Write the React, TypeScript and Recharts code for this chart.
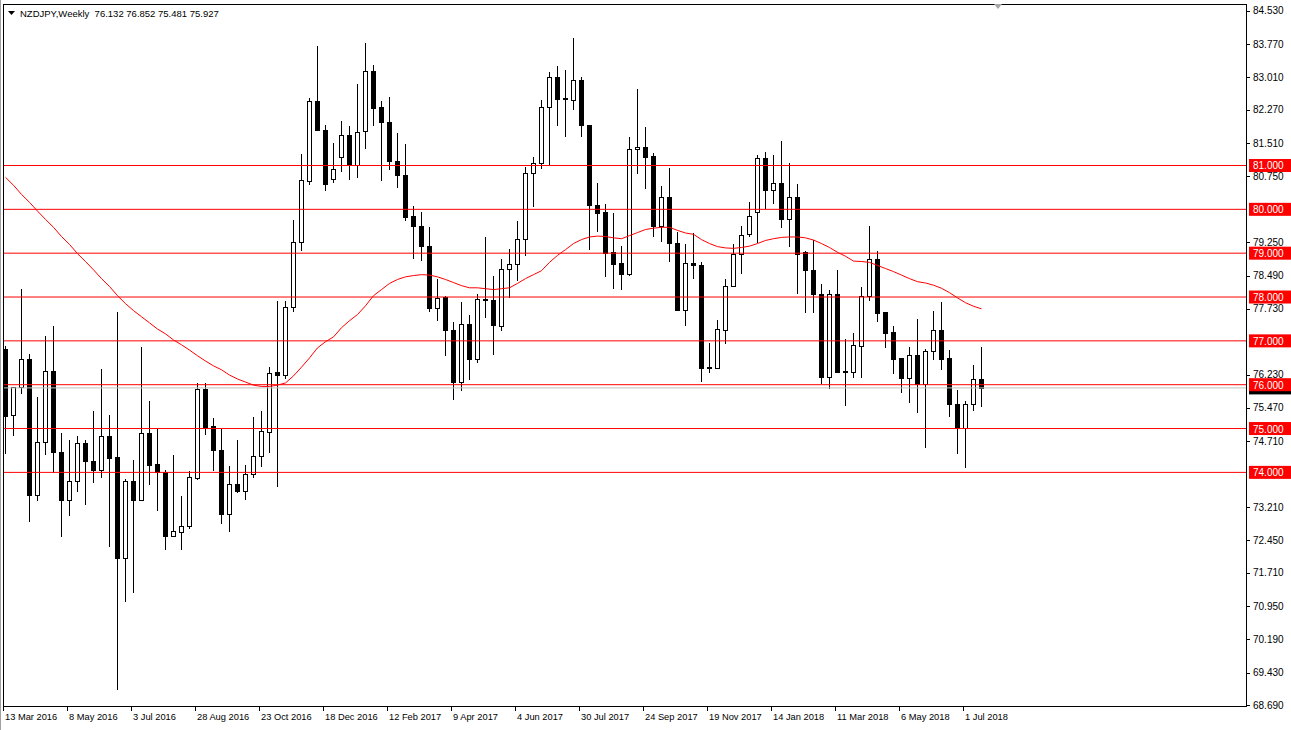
import React from "react";
import { ComposedChart, Bar, Line, XAxis, YAxis, ReferenceLine } from "recharts";

// weekly NZDJPY, 13 Mar 2016 .. 15 Jul 2018
const opens = [
  76.81, 75.3, 75.95, 76.58, 73.48, 74.7, 76.32, 74.47, 73.37, 73.8, 74.67, 74.27, 74.05, 74.82, 74.34, 72.04,
  73.8, 73.38, 74.89, 74.19, 74.0, 72.56, 72.65, 72.77, 73.88, 75.91, 75.05, 74.52, 73.06, 73.73, 73.58, 73.97,
  74.38, 74.92, 76.3, 76.23, 77.78, 79.26, 80.65, 82.46, 81.82, 80.7, 81.19, 81.7, 81.0, 81.79, 83.16, 82.33,
  82.0, 81.11, 80.79, 79.84, 79.63, 79.17, 77.76, 78.0, 77.25, 76.06, 77.39, 76.59, 77.96, 77.94, 77.35, 78.65,
  78.75, 79.33, 80.84, 81.06, 82.34, 83.03, 82.53, 82.5, 82.94, 81.93, 80.1, 79.93, 79.02, 78.77, 78.53, 81.37,
  81.42, 81.21, 79.62, 80.29, 79.24, 77.71, 78.77, 78.72, 76.39, 76.39, 77.25, 78.26, 78.99, 79.44, 79.94, 81.17,
  80.45, 80.6, 79.78, 80.29, 79.02, 78.62, 78.07, 76.17, 78.06, 76.29, 76.3, 76.89, 78.03, 78.86, 77.66, 77.2,
  76.61, 76.16, 76.67, 76.02, 76.78, 77.24, 76.61, 75.57, 75.02, 75.55, 76.132,
];
const highs = [
  76.89, 75.95, 78.18, 76.7, 75.73, 77.11, 77.34, 74.9, 74.73, 74.82, 74.73, 75.41, 76.36, 75.3, 77.66, 73.84,
  74.28, 76.86, 75.62, 75.0, 74.05, 74.39, 73.45, 74.03, 76.05, 76.03, 75.23, 75.0, 74.14, 74.73, 74.16, 75.26,
  75.39, 76.4, 77.91, 77.91, 79.75, 81.26, 82.53, 83.72, 81.92, 81.52, 82.01, 81.9, 82.85, 83.79, 83.29, 82.48,
  82.57, 81.73, 81.48, 80.07, 79.93, 79.59, 78.4, 78.03, 77.42, 77.88, 77.6, 78.08, 79.36, 78.49, 78.86, 79.1,
  79.74, 80.97, 81.2, 82.5, 83.13, 83.26, 83.17, 83.9, 83.03, 81.93, 80.59, 80.12, 79.92, 79.16, 81.64, 82.74,
  81.88, 81.29, 80.53, 80.94, 79.49, 79.21, 79.45, 78.79, 76.94, 77.48, 78.4, 79.2, 79.62, 80.16, 81.25, 81.3,
  81.25, 81.55, 81.05, 80.57, 79.04, 79.29, 78.3, 78.15, 78.61, 77.04, 77.18, 78.23, 79.62, 79.05, 77.66, 77.34,
  76.61, 76.86, 77.5, 76.81, 77.69, 77.89, 76.79, 75.87, 75.62, 76.44, 76.852,
];
const lows = [
  74.42, 74.84, 75.78, 72.87, 73.35, 74.39, 73.99, 72.53, 73.01, 73.55, 73.25, 73.76, 73.87, 72.3, 69.03, 71.05,
  71.25, 73.36, 73.72, 73.11, 72.22, 72.52, 72.22, 72.7, 73.83, 74.86, 74.04, 72.83, 72.65, 73.52, 73.38, 73.87,
  74.12, 74.44, 73.67, 76.14, 77.66, 79.04, 80.56, 81.81, 80.42, 80.6, 80.85, 80.68, 80.71, 81.38, 81.9, 80.65,
  80.9, 80.49, 79.73, 78.87, 78.82, 77.66, 77.45, 76.65, 75.66, 75.85, 76.11, 76.49, 77.52, 76.68, 77.22, 77.98,
  78.37, 78.94, 80.05, 80.93, 81.02, 81.9, 81.65, 82.27, 81.65, 79.07, 79.48, 78.46, 78.18, 78.15, 78.48, 80.8,
  80.46, 79.37, 79.25, 78.79, 77.67, 77.34, 78.41, 76.06, 76.27, 76.36, 76.93, 78.26, 78.52, 79.38, 79.24, 80.0,
  80.12, 79.57, 79.14, 78.07, 77.63, 77.63, 76.02, 75.91, 76.27, 75.52, 76.16, 76.16, 77.9, 77.44, 76.84, 76.25,
  75.82, 75.59, 75.36, 74.56, 76.57, 76.34, 75.27, 74.41, 74.09, 75.4, 75.481,
];
const closes = [
  75.28, 75.95, 76.58, 73.48, 74.7, 76.32, 74.46, 73.37, 73.81, 74.67, 74.26, 74.05, 74.82, 74.33, 72.05, 73.81,
  73.38, 74.89, 74.17, 74.02, 72.56, 72.66, 72.78, 73.89, 75.91, 75.04, 74.52, 73.06, 73.73, 73.58, 73.97, 74.38,
  74.94, 76.27, 76.23, 77.78, 79.26, 80.68, 82.46, 81.81, 80.58, 80.93, 81.7, 81.0, 81.77, 83.16, 82.32, 81.99,
  81.1, 80.79, 79.83, 79.62, 79.16, 77.75, 77.98, 77.25, 76.06, 77.39, 76.59, 77.96, 77.94, 77.37, 78.65, 78.75,
  79.33, 80.84, 81.06, 82.34, 83.03, 82.52, 82.51, 82.94, 81.92, 80.1, 79.92, 79.0, 78.75, 78.53, 81.37, 81.42,
  81.2, 79.62, 80.29, 79.23, 77.7, 78.77, 78.72, 76.39, 76.4, 77.26, 78.26, 78.99, 79.42, 79.85, 81.17, 80.44,
  80.6, 79.78, 80.29, 78.99, 78.61, 78.07, 76.17, 78.06, 76.29, 76.31, 76.9, 78.03, 78.86, 77.64, 77.19, 76.59,
  76.16, 76.67, 76.02, 76.78, 77.24, 76.59, 75.57, 75.02, 75.57, 76.14, 75.927,
];
// red moving average
const ma = [
  80.73, 80.55, 80.34, 80.16, 79.96, 79.77, 79.59, 79.38, 79.2, 78.99, 78.81, 78.62, 78.42, 78.24, 78.03, 77.85,
  77.69, 77.55, 77.41, 77.27, 77.16, 77.02, 76.91, 76.79, 76.66, 76.54, 76.43, 76.34, 76.22, 76.13, 76.06, 75.99,
  75.96, 75.96, 75.99, 76.04, 76.2, 76.4, 76.61, 76.84, 76.98, 77.09, 77.3, 77.46, 77.6, 77.8, 78.03, 78.17,
  78.31, 78.4, 78.46, 78.49, 78.51, 78.5, 78.46, 78.4, 78.33, 78.26, 78.21, 78.21, 78.19, 78.17, 78.19, 78.21,
  78.31, 78.42, 78.51, 78.6, 78.79, 78.95, 79.08, 79.22, 79.31, 79.37, 79.39, 79.38, 79.35, 79.33, 79.4, 79.47,
  79.54, 79.57, 79.59, 79.59, 79.52, 79.46, 79.43, 79.31, 79.22, 79.15, 79.12, 79.11, 79.13, 79.16, 79.22, 79.29,
  79.33, 79.36, 79.37, 79.37, 79.35, 79.3, 79.22, 79.13, 79.02, 78.93, 78.82, 78.81, 78.79, 78.72, 78.65, 78.58,
  78.5, 78.42, 78.35, 78.32, 78.27, 78.2, 78.1, 77.98, 77.87, 77.79, 77.73,
];

const dateLabels = [
  "13 Mar 2016", "8 May 2016", "3 Jul 2016", "28 Aug 2016", "23 Oct 2016", "18 Dec 2016", "12 Feb 2017", "9 Apr 2017",
  "4 Jun 2017", "30 Jul 2017", "24 Sep 2017", "19 Nov 2017", "14 Jan 2018", "11 Mar 2018", "6 May 2018", "1 Jul 2018",
];
const dateTicks = [0, 8, 16, 24, 32, 40, 48, 56, 64, 72, 80, 88, 96, 104, 112, 120];
const priceTicks = [
  84.53, 83.77, 83.01, 82.27, 81.51, 80.75, 79.25, 78.49, 77.73, 76.23, 75.47, 74.71, 73.21, 72.45, 71.71, 70.95,
  70.19, 69.43, 68.69,
];
const levels = [81, 80, 79, 78, 77, 76, 75, 74];
const lastPrice = 75.927;
const title = "NZDJPY,Weekly";
const lastBar = ["76.132", "76.852", "75.481", "75.927"];

const rows = opens.map((o, i) => ({
  idx: i,
  open: o,
  high: highs[i],
  low: lows[i],
  close: closes[i],
  ma: ma[i],
}));

const AXIS_FONT = "'Liberation Sans', Arial, sans-serif";

function Candle(props: any) {
  const { x, y, width, height, payload } = props;
  if (!payload || !height) return null;
  const { open, close, high, low } = payload;
  const toY = (v: number) => y + ((high - v) / (high - low)) * height;
  const cx = Math.floor(x + width / 2) + 0.5;
  const yo = toY(open);
  const yc = toY(close);
  const top = Math.round(Math.min(yo, yc));
  const bot = Math.round(Math.max(yo, yc));
  const up = close >= open;
  return (
    <g>
      <line x1={cx} x2={cx} y1={Math.round(y)} y2={Math.round(y + height)} stroke="#000" strokeWidth={1} />
      {bot - top < 1 ? (
        <line x1={cx - 2.5} x2={cx + 2.5} y1={top + 0.5} y2={top + 0.5} stroke="#000" strokeWidth={1} />
      ) : (
        <rect
          x={cx - 2}
          y={top + 0.5}
          width={4}
          height={bot - top}
          fill={up ? "#fff" : "#000"}
          stroke="#000"
          strokeWidth={1}
        />
      )}
    </g>
  );
}

function PriceTick({ x, y, payload }: any) {
  const ty = Math.round(y) + 0.5;
  return (
    <g>
      <line x1={x + 1} x2={x + 4} y1={ty} y2={ty} stroke="#000" />
      <text x={x + 7} y={y + 3.5} fontSize={10} fontFamily={AXIS_FONT} fill="#000">
        {Number(payload.value).toFixed(3)}
      </text>
    </g>
  );
}

function DateTick({ x, y, payload }: any) {
  const i = dateTicks.indexOf(payload.value);
  const tx = Math.floor(x) - 2 + 0.5;
  return (
    <g>
      <line x1={tx} x2={tx} y1={y + 1} y2={y + 5} stroke="#000" />
      <text x={tx + 1.5} y={y + 14} fontSize={9.3} fontFamily={AXIS_FONT} fill="#000">
        {dateLabels[i]}
      </text>
    </g>
  );
}

// axis tag; the black last-price tag sits under the 76.000 one, its number hidden
function PriceTag({ viewBox, text, bg }: any) {
  if (!viewBox) return null;
  const x = viewBox.x + viewBox.width;
  const y = viewBox.y;
  return (
    <g>
      <rect x={x + 3} y={y - 6.5} width={42} height={13} fill={bg} />
      {text ? (
        <text x={x + 7} y={y + 4} fontSize={10} fontFamily={AXIS_FONT} fill="#fff">
          {text}
        </text>
      ) : null}
    </g>
  );
}

export default function App() {
  return (
    <div style={{ position: "absolute", left: 0, top: 0, width: 1291, height: 730, background: "#fff" }}>
      <ComposedChart
        width={1291}
        height={730}
        data={rows}
        margin={{ top: 5, right: 0, bottom: 0, left: 4 }}
      >
        <XAxis
          dataKey="idx"
          type="number"
          domain={[-0.1875, 155.0625]}
          allowDataOverflow
          ticks={dateTicks}
          interval={0}
          height={24}
          axisLine={false}
          tickLine={false}
          tickSize={0}
          tickMargin={0}
          tick={<DateTick />}
        />
        <YAxis
          orientation="right"
          type="number"
          domain={[68.671, 84.661]}
          allowDataOverflow
          ticks={priceTicks}
          interval={0}
          width={45}
          axisLine={false}
          tickLine={false}
          tickSize={0}
          tickMargin={0}
          tick={<PriceTick />}
        />
        <Bar
          dataKey={(d: any) => [d.low, d.high]}
          barSize={5}
          shape={<Candle />}
          isAnimationActive={false}
        />
        <Line
          type="linear"
          dataKey="ma"
          stroke="#ff0000"
          strokeWidth={1}
          dot={false}
          activeDot={false}
          isAnimationActive={false}
        />
        <ReferenceLine y={lastPrice} stroke="#c0c0c0" strokeWidth={1} label={<PriceTag text="" bg="#000" />} />
        {levels.map((lv) => (
          <ReferenceLine
            key={lv}
            y={lv}
            stroke="#ff0000"
            strokeWidth={1}
            label={<PriceTag text={lv.toFixed(3)} bg="#ff0000" />}
          />
        ))}
      </ComposedChart>
      <svg
        width={1291}
        height={730}
        style={{ position: "absolute", left: 0, top: 0, pointerEvents: "none" }}
      >
        <rect x={0} y={0} width={1} height={730} fill="#a0a0a0" />
        <rect x={3.5} y={4.5} width={1243} height={702} fill="none" stroke="#000" strokeWidth={1} />
        <polygon points="8,11 15,11 11.5,15" fill="#000" />
        <text x={20} y={17} fontSize={9.5} fontFamily={AXIS_FONT} fill="#000" style={{ whiteSpace: "pre" }}>
          {title + "  " + lastBar.join(" ")}
        </text>
        <polygon points="994,4 1002,4 998,9" fill="#a8a8a8" />
      </svg>
    </div>
  );
}
